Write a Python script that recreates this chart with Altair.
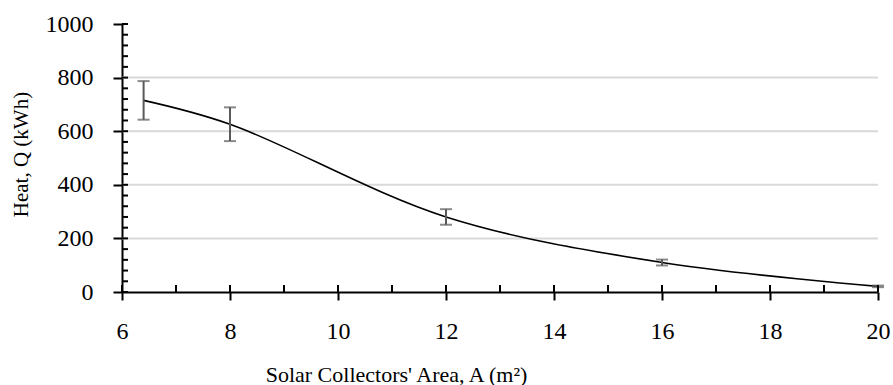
import altair as alt
import pandas as pd

# Measured heat output vs. collector area, with error half-widths
area = [6.4, 8, 12, 16, 20]
heat = [715, 626, 280, 110, 21]
err = [72, 63, 29, 11, 3]

# Axis values
x_major = [6, 8, 10, 12, 14, 16, 18, 20]
x_minor = list(range(6, 21))
y_major = [0, 200, 400, 600, 800, 1000]
y_minor = list(range(0, 1001, 40))
y_grid = [200, 400, 600, 800]

W, H = 756, 268
FONT = "Liberation Serif"

df = pd.DataFrame({"area": area, "heat": heat, "err": err})
df["lo"] = df["heat"] - df["err"]
df["hi"] = df["heat"] + df["err"]

xs = alt.Scale(domain=[6, 20], nice=False, zero=False)
ys = alt.Scale(domain=[0, 1000], nice=False)

x_axis = alt.Axis(
    values=x_major, title="Solar Collectors' Area, A (m²)", format="d",
    tickSize=8, tickWidth=2, tickColor="black",
    domainColor="black", domainWidth=2,
    labelFont=FONT, labelFontSize=24, labelColor="black", labelPadding=19,
    titleFont=FONT, titleFontSize=22, titleFontWeight="normal", titleColor="black",
    titleX=274, titleY=89, titleAlign="center", titleBaseline="alphabetic",
    grid=False, labelFlush=False,
)
y_axis = alt.Axis(
    values=y_major, title="Heat, Q (kWh)", format="d",
    tickSize=9, tickWidth=2, tickColor="black",
    domainColor="black", domainWidth=2,
    labelFont=FONT, labelFontSize=24, labelColor="black", labelPadding=20,
    titleFont=FONT, titleFontSize=21, titleFontWeight="normal", titleColor="black",
    titleX=-95, titleY=130, titleAlign="center", titleBaseline="alphabetic",
    grid=False, labelFlush=False,
)


def X(field):
    return alt.X(field, scale=xs, axis=x_axis)


def Y(field):
    return alt.Y(field, scale=ys, axis=y_axis)


grid = alt.Chart(pd.DataFrame({"v": y_grid})).mark_rule(
    color="#d9d9d9", strokeWidth=2
).encode(y=Y("v:Q"), x=alt.value(0), x2=alt.value(W))

# inner tick marks (major and minor) on both axes
y_in = alt.Chart(pd.DataFrame({"v": y_minor})).mark_rule(
    color="black", strokeWidth=2
).encode(y=Y("v:Q"), x=alt.value(0), x2=alt.value(6))

x_in = alt.Chart(pd.DataFrame({"v": x_minor})).mark_rule(
    color="black", strokeWidth=2
).encode(x=X("v:Q"), y=alt.value(H - 7), y2=alt.value(H))

base = alt.Chart(df)

curve = base.mark_line(
    color="black", strokeWidth=1.6, interpolate="catmull-rom"
).encode(x=X("area:Q"), y=Y("heat:Q"))

bars = base.mark_rule(color="#595959", strokeWidth=2).encode(
    x=X("area:Q"), y=Y("lo:Q"), y2="hi:Q"
)
cap_lo = base.mark_tick(color="#595959", orient="horizontal", size=12, thickness=2).encode(
    x=X("area:Q"), y=Y("lo:Q")
)
cap_hi = base.mark_tick(color="#595959", orient="horizontal", size=12, thickness=2).encode(
    x=X("area:Q"), y=Y("hi:Q")
)

chart = alt.layer(grid, curve, bars, cap_lo, cap_hi, y_in, x_in).properties(
    width=W, height=H,
    autosize=alt.AutoSizeParams(type="none"),
    padding={"left": 122, "top": 24, "right": 15, "bottom": 93},
    background="white",
).configure_view(stroke=None)

chart.save("out.html", embed_options={"renderer": "svg", "actions": False})
